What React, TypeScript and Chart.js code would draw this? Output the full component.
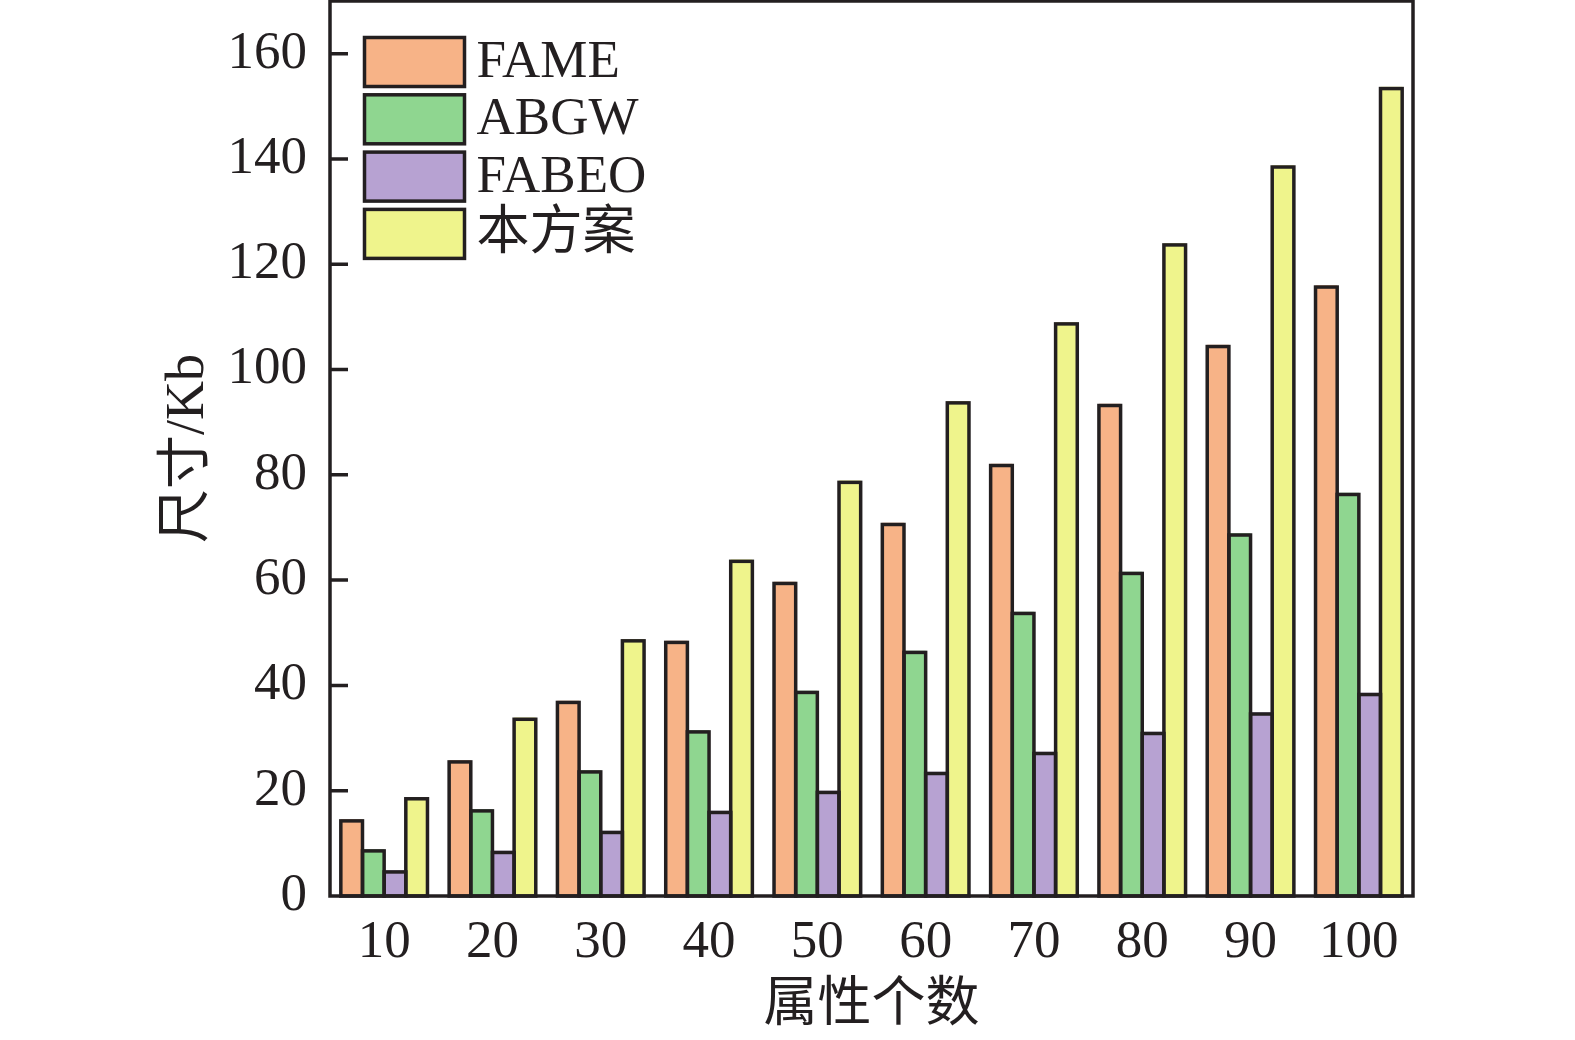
import React, { useEffect, useRef } from "react";
import { Chart, registerables, Plugin } from "chart.js";

Chart.register(...registerables);

const categories = ["10", "20", "30", "40", "50", "60", "70", "80", "90", "100"];
const seriesNames = ["FAME", "ABGW", "FABEO", "本方案"];
const fameValues = [14.6, 25.8, 37.1, 48.5, 59.7, 70.9, 82.1, 93.5, 104.7, 116.0];
const abgwValues = [8.9, 16.5, 23.9, 31.5, 39.0, 46.6, 54.0, 61.6, 68.9, 76.6];
const fabeoValues = [4.9, 8.6, 12.4, 16.2, 20.0, 23.6, 27.4, 31.2, 34.9, 38.6];
const oursValues = [18.8, 33.9, 48.8, 63.9, 78.9, 94.0, 109.0, 124.0, 138.8, 153.7];
const seriesColors = ["#F7B387", "#8FD690", "#B7A2D2", "#EFF48C"];
const yTicks = [0, 20, 40, 60, 80, 100, 120, 140, 160];

const INK = "#231F20";
const SERIF = "'Liberation Serif', 'Times New Roman', 'Noto Sans CJK SC', serif";
const LINE = 3.5;

// outline every bar so that neighbouring bars share one edge line
const outlinePlugin: Plugin<"bar"> = {
  id: "outline",
  afterDatasetsDraw(chart) {
    const { ctx } = chart;
    ctx.save();
    ctx.strokeStyle = INK;
    ctx.lineWidth = LINE;
    ctx.lineJoin = "miter";
    chart.data.datasets.forEach((_, di) => {
      const meta = chart.getDatasetMeta(di);
      meta.data.forEach((el) => {
        const { x, y, base, width } = el.getProps(["x", "y", "base", "width"], true) as {
          x: number; y: number; base: number; width: number;
        };
        const top = y + LINE / 2;
        ctx.strokeRect(x - width / 2, top, width, base - top);
      });
    });
    ctx.restore();
  },
};

// frame around the plot, inward y ticks, legend in the upper left corner
const decorPlugin: Plugin<"bar"> = {
  id: "decor",
  afterDraw(chart) {
    const { ctx, chartArea } = chart;
    const { left, top, right, bottom } = chartArea;
    const yScale = chart.scales.y;
    ctx.save();
    ctx.strokeStyle = INK;
    ctx.lineWidth = LINE;
    ctx.strokeRect(left, top, right - left, bottom - top);

    ctx.beginPath();
    yScale.ticks.forEach((t) => {
      if (t.value === 0) return;
      const py = yScale.getPixelForValue(t.value);
      ctx.moveTo(left, py);
      ctx.lineTo(left + 18, py);
    });
    ctx.stroke();

    // legend
    const bx = left + 34.5;
    const bw = 100;
    const bh = 49;
    ctx.font = `53px ${SERIF}`;
    ctx.textBaseline = "middle";
    ctx.textAlign = "left";
    chart.data.datasets.forEach((ds, i) => {
      const by = top + 36.5 + i * 57.3;
      ctx.fillStyle = ds.backgroundColor as string;
      ctx.fillRect(bx, by, bw, bh);
      ctx.strokeRect(bx, by, bw, bh);
      ctx.fillStyle = INK;
      ctx.fillText(ds.label ?? "", bx + 112, by + bh / 2 + 1);
    });
    ctx.restore();
  },
};

const App: React.FC = () => {
  const canvasRef = useRef<HTMLCanvasElement | null>(null);
  const chartRef = useRef<Chart<"bar"> | null>(null);

  useEffect(() => {
    if (!canvasRef.current) return;
    if (chartRef.current) chartRef.current.destroy();

    const allValues = [fameValues, abgwValues, fabeoValues, oursValues];

    chartRef.current = new Chart(canvasRef.current, {
      type: "bar",
      data: {
        labels: categories,
        datasets: allValues.map((values, i) => ({
          label: seriesNames[i],
          data: values,
          backgroundColor: seriesColors[i],
          borderWidth: 0,
          categoryPercentage: 0.8,
          barPercentage: 1.0,
        })),
      },
      options: {
        animation: false,
        responsive: true,
        maintainAspectRatio: false,
        layout: { padding: { top: 1, right: 162, left: 0, bottom: 0 } },
        plugins: {
          legend: { display: false },
          tooltip: { enabled: false },
        },
        scales: {
          x: {
            grid: { display: false, drawTicks: false },
            border: { display: false },
            ticks: {
              color: INK,
              padding: 15,
              font: { family: SERIF, size: 53 },
            },
            title: {
              display: true,
              text: "属性个数",
              color: INK,
              padding: { top: 0, bottom: 1 },
              font: { family: SERIF, size: 54 },
            },
            afterFit: (scale) => {
              scale.height = 144;
              scale.paddingLeft = 0;
              scale.paddingRight = 0;
            },
          },
          y: {
            min: 0,
            max: 170,
            grid: { display: false, drawTicks: false },
            border: { display: false },
            ticks: {
              stepSize: 20,
              color: INK,
              padding: 23,
              font: { family: SERIF, size: 53 },
            },
            afterBuildTicks: (scale) => {
              scale.ticks = yTicks.map((v) => ({ value: v }));
            },
            title: {
              display: true,
              text: "尺寸/Kb",
              color: INK,
              padding: { top: 156, bottom: 0 },
              font: { family: SERIF, size: 54 },
            },
            afterFit: (scale) => {
              scale.width = 330;
              scale.paddingTop = 0;
              scale.paddingBottom = 0;
            },
          },
        },
      },
      plugins: [outlinePlugin, decorPlugin],
    });

    return () => {
      if (chartRef.current) {
        chartRef.current.destroy();
        chartRef.current = null;
      }
    };
  }, []);

  return (
    <div style={{ position: "absolute", left: 0, top: 0, width: 1575, height: 1040, background: "#fff" }}>
      <canvas ref={canvasRef} />
    </div>
  );
};

export default App;
